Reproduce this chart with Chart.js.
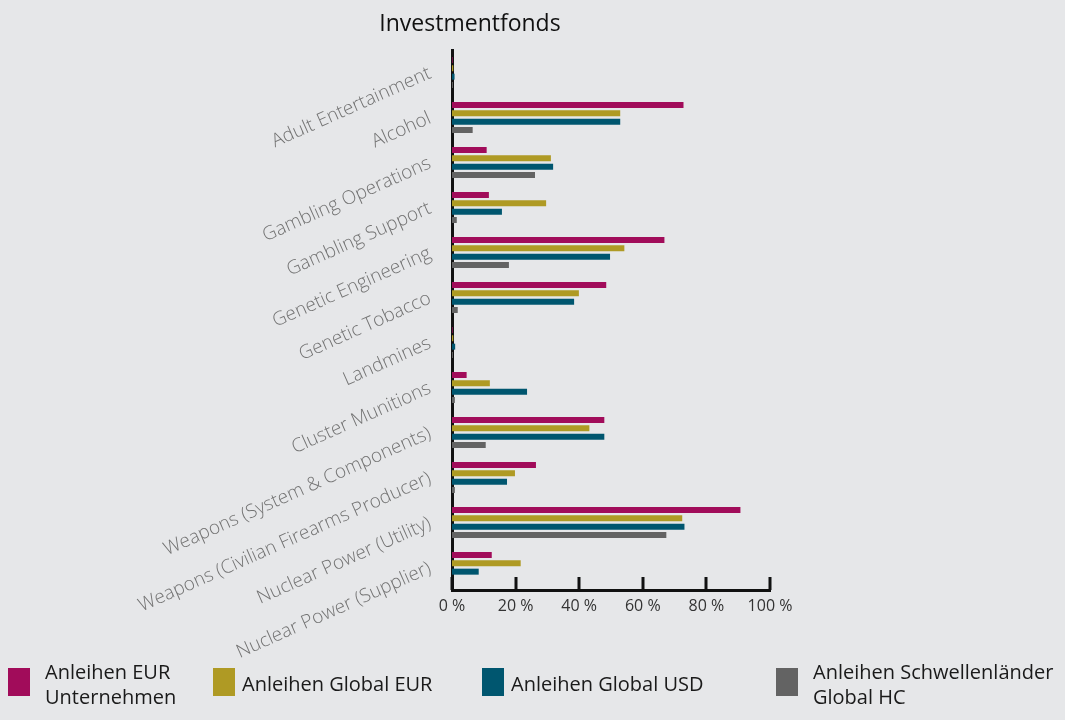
<!DOCTYPE html>
<html lang="de">
<head>
<meta charset="utf-8">
<title>Investmentfonds</title>
<script src="https://cdn.jsdelivr.net/npm/chart.js@4.4.1/dist/chart.umd.min.js"></script>
<style>
  html, body { margin: 0; padding: 0; background: #e6e7e9; }
  body { width: 1065px; height: 720px; position: relative; overflow: hidden; font-family: "Open Sans", sans-serif; }
  #title { position: absolute; left: 340px; width: 260px; top: 6px; text-align: center; font-size: 23px; color: #111; z-index: 2; }
  #chartBox { position: absolute; left: 0; top: 0; }
  .sw { position: absolute; top: 668px; width: 22px; height: 28px; z-index: 2; }
  .lt { position: absolute; font-size: 20px; color: #1a1a1a; line-height: 25px; z-index: 2; white-space: nowrap; }
</style>
</head>
<body>
<div id="title">Investmentfonds</div>
<canvas id="chartBox" width="1065" height="720"></canvas>
<div id="legend"></div>

<script>
// Ausschlusskriterien (Kategorien)
const categories = [
  "Adult Entertainment",
  "Alcohol",
  "Gambling Operations",
  "Gambling Support",
  "Genetic Engineering",
  "Genetic Tobacco",
  "Landmines",
  "Cluster Munitions",
  "Weapons (System & Components)",
  "Weapons (Civilian Firearms Producer)",
  "Nuclear Power (Utility)",
  "Nuclear Power (Supplier)"
];

// Anteile in %
const anleihenEurUnternehmen = [0.2, 72.8, 10.9, 11.6, 66.8, 48.5, 0.2, 4.6, 47.9, 26.4, 90.7, 12.5];
const anleihenGlobalEur      = [0.4, 52.9, 31.1, 29.6, 54.2, 39.9, 0.4, 11.9, 43.2, 19.8, 72.4, 21.6];
const anleihenGlobalUsd      = [0.8, 52.9, 31.8, 15.7, 49.7, 38.4, 1.0, 23.6, 47.9, 17.3, 73.1, 8.4];
const anleihenSchwellenHc    = [0.3, 6.5, 26.1, 1.5, 17.9, 1.8, 0.3, 0.9, 10.6, 0.9, 67.4, 0.3];

const xTicks = [0, 20, 40, 60, 80, 100];

const series = [
  { label: ["Anleihen EUR", "Unternehmen"], data: anleihenEurUnternehmen, color: "#a10c5a", box: 8, text: 45 },
  { label: ["Anleihen Global EUR"], data: anleihenGlobalEur, color: "#af9a24", box: 213, text: 242 },
  { label: ["Anleihen Global USD"], data: anleihenGlobalUsd, color: "#00566f", box: 482, text: 511 },
  { label: ["Anleihen Schwellenländer", "Global HC"], data: anleihenSchwellenHc, color: "#636363", box: 776, text: 813 }
];

// Tickstriche nach innen (oberhalb der x-Achse)
const innerTicks = {
  id: "innerTicks",
  afterDraw(chart) {
    const sx = chart.scales.x;
    const bottom = chart.chartArea.bottom;
    const ctx = chart.ctx;
    ctx.save();
    ctx.strokeStyle = "#111";
    ctx.lineWidth = 3;
    for (const v of xTicks) {
      const px = Math.round(sx.getPixelForValue(v));
      ctx.beginPath();
      ctx.moveTo(px, bottom - 13);
      ctx.lineTo(px, bottom);
      ctx.stroke();
    }
    ctx.restore();
  }
};

new Chart(document.getElementById("chartBox"), {
  type: "bar",
  data: {
    labels: categories,
    datasets: series.map(s => ({
      label: s.label.join(" "),
      data: s.data,
      backgroundColor: s.color,
      borderWidth: 0,
      categoryPercentage: 0.74,
      barPercentage: 0.72
    }))
  },
  options: {
    indexAxis: "y",
    responsive: false,
    devicePixelRatio: 1,
    animation: false,
    layout: { padding: { top: 50, right: 295, bottom: 90, left: 0 } },
    plugins: { legend: { display: false }, tooltip: { enabled: false } },
    scales: {
      x: {
        min: 0,
        max: 100,
        afterFit(scale) { scale.height = 40; },
        afterBuildTicks(scale) { scale.ticks = xTicks.map(v => ({ value: v })); },
        grid: { display: false, drawTicks: false },
        border: { display: true, color: "#111", width: 3 },
        ticks: {
          padding: 7,
          color: "#333",
          font: { family: "Open Sans", size: 16 },
          callback: v => v + " %"
        }
      },
      y: {
        afterFit(scale) { scale.width = 452; },
        grid: { display: false, drawTicks: false },
        border: { display: true, color: "#111", width: 3 },
        ticks: {
          autoSkip: false,
          minRotation: 24,
          maxRotation: 24,
          padding: 22,
          color: "#737373",
          font: { family: "Open Sans", size: 19, weight: 300 }
        }
      }
    }
  },
  plugins: [innerTicks]
});

// Legende
const legend = document.getElementById("legend");
for (const s of series) {
  const sw = document.createElement("div");
  sw.className = "sw";
  sw.style.left = s.box + "px";
  sw.style.background = s.color;
  const txt = document.createElement("div");
  txt.className = "lt";
  txt.style.left = s.text + "px";
  txt.style.top = (s.label.length > 1 ? 659 : 671) + "px";
  txt.innerHTML = s.label.join("<br>");
  legend.appendChild(sw);
  legend.appendChild(txt);
}
</script>
</body>
</html>
